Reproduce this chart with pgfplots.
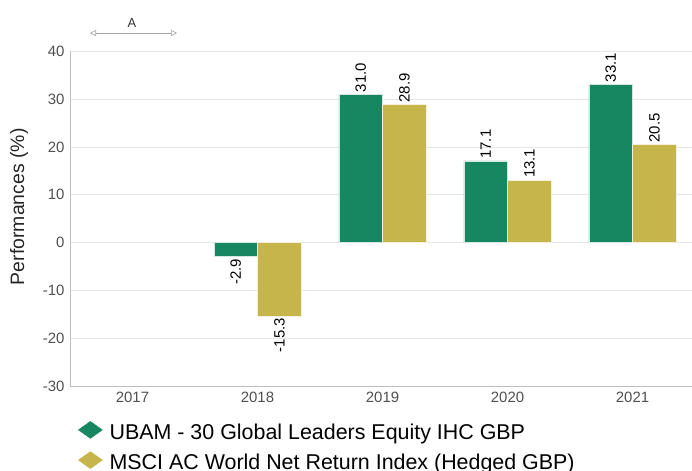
\documentclass[border=0pt]{standalone}
\usepackage{pgfplots}
\pgfplotsset{compat=1.18}
\usepackage{fontspec}
\setmainfont{Liberation Sans}
\usetikzlibrary{arrows.meta}
\definecolor{ubgreen}{RGB}{23,135,98}
\definecolor{ubgold}{RGB}{198,181,74}
\definecolor{gridgrey}{RGB}{230,230,230}
\definecolor{axisgrey}{RGB}{190,190,190}
\definecolor{ticktext}{RGB}{80,80,80}
\pgfplotsset{
  lbl/.style={every node near coord/.style={xshift=#1, rotate=90, font=\fontsize{15}{17}\selectfont, text=black, inner sep=2bp}},
}
\begin{document}
\begin{tikzpicture}[x=1bp,y=1bp]
\path[use as bounding box] (-70,-85) rectangle (622,386);
\begin{axis}[
  at={(0,0)}, anchor=south west,
  scale only axis, width=622bp, height=334.5bp,
  xmin=-0.5, xmax=4.476, ymin=-30, ymax=40,
  xtick={0,1,2,3,4}, xticklabels={2017,2018,2019,2020,2021},
  ytick={-30,-20,-10,0,10,20,30,40},
  axis x line*=bottom, axis y line*=left,
  axis line style={axisgrey, line width=0.8pt, -},
  major tick length=0pt,
  ymajorgrids, grid style={gridgrey, line width=0.8pt},
  tick label style={font=\fontsize{15}{17}\selectfont, text=ticktext},
  /pgf/number format/assume math mode=true,
  xticklabel style={yshift=-3bp},
  yticklabel style={xshift=-2bp},
  ylabel={Performances (\%)},
  every axis y label/.style={at={(rel axis cs:0,0.5)}, xshift=-51bp, yshift=12bp, rotate=90, anchor=center,
     font=\fontsize{19.5}{22}\selectfont, text=black!85},
  bar width=0.348,
  nodes near coords={\pgfmathprintnumber[fixed,fixed zerofill,precision=1,assume math mode=true]{\pgfplotspointmeta}},
  legend style={at={(rel axis cs:0,0)}, anchor=north west, xshift=8bp, yshift=-35bp, draw=none, fill=none,
    font=\fontsize{21.5}{25}\selectfont, row sep=8bp, column sep=7bp, inner sep=0pt,
    nodes={inner sep=0pt, text height=14bp, text depth=4bp}},
  legend cell align=left,
  clip=false,
]
% positive bars
\addplot[ybar, bar shift=-0.175, fill=ubgreen, draw=white!80!ubgreen, line width=0.4pt,
  lbl=-21.875bp, every node near coord/.append style={anchor=west}, forget plot]
  coordinates {(2,31.0) (3,17.1) (4,33.1)};
\addplot[ybar, bar shift=0.175, fill=ubgold, draw=white!80!ubgold, line width=0.4pt,
  lbl=21.875bp, every node near coord/.append style={anchor=west}, forget plot]
  coordinates {(2,28.9) (3,13.1) (4,20.5)};
% negative bars
\addplot[ybar, bar shift=-0.175, fill=ubgreen, draw=white!80!ubgreen, line width=0.4pt,
  lbl=-21.875bp, every node near coord/.append style={anchor=east}, forget plot]
  coordinates {(1,-2.9)};
\addplot[ybar, bar shift=0.175, fill=ubgold, draw=white!80!ubgold, line width=0.4pt,
  lbl=21.875bp, every node near coord/.append style={anchor=east}, forget plot]
  coordinates {(1,-15.3)};
\addlegendimage{legend image code/.code={\fill[ubgreen] (0bp,4.5bp) -- (12bp,13bp) -- (24bp,4.5bp) -- (12bp,-4bp) -- cycle;}}
\addlegendentry{UBAM - 30 Global Leaders Equity IHC GBP}
\addlegendimage{legend image code/.code={\fill[ubgold] (0bp,4.5bp) -- (12bp,13bp) -- (24bp,4.5bp) -- (12bp,-4bp) -- cycle;}}
\addlegendentry{MSCI AC World Net Return Index (Hedged GBP)}
\end{axis}
\draw[gray!70, line width=0.6pt, {Triangle[open, length=6bp, width=6bp]}-{Triangle[open, length=6bp, width=6bp]}] (20,353) -- (107,353);
\node[font=\fontsize{13}{15}\selectfont, text=black!80] at (62,363) {A};
\end{tikzpicture}
\end{document}
